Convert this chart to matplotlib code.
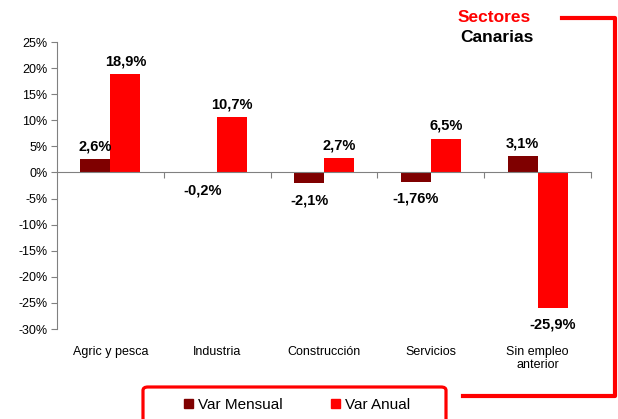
import matplotlib
matplotlib.use("Agg")
import matplotlib.pyplot as plt
from matplotlib.lines import Line2D
from matplotlib.patches import FancyBboxPatch, Patch
import numpy as np

plt.rcParams['font.family'] = ['Liberation Sans', 'DejaVu Sans']

sectores = ['Agric y pesca', 'Industria', 'Construcción', 'Servicios', 'Sin empleo\nanterior']
var_mensual = [2.6, -0.2, -2.1, -1.76, 3.1]
var_anual = [18.9, 10.7, 2.7, 6.5, -25.9]
lab_mensual = ['2,6%', '-0,2%', '-2,1%', '-1,76%', '3,1%']
lab_anual = ['18,9%', '10,7%', '2,7%', '6,5%', '-25,9%']
yticks = [25, 20, 15, 10, 5, 0, -5, -10, -15, -20, -25, -30]

c_mens = '#7f0000'
c_anual = '#ff0000'
grey = '#808080'

W, H = 618, 419
fig = plt.figure(figsize=(W / 100, H / 100), dpi=100)
ax = fig.add_axes([57 / W, 1 - 329 / H, (591 - 57) / W, (329 - 42) / H])

x = np.arange(len(sectores))
w = 0.28
b1 = ax.bar(x - w / 2, var_mensual, w, color=c_mens, zorder=2)
b2 = ax.bar(x + w / 2, var_anual, w, color=c_anual, zorder=2)

for bars, labs in ((b1, lab_mensual), (b2, lab_anual)):
    for bar, lab in zip(bars, labs):
        h = bar.get_height()
        xc = bar.get_x() + bar.get_width() / 2
        if h >= 0:
            ax.annotate(lab, (xc, h), xytext=(0, 4), textcoords='offset points',
                        ha='center', va='bottom', fontsize=10.5, fontweight='bold')
        else:
            ax.annotate(lab, (xc, h), xytext=(0, -7), textcoords='offset points',
                        ha='center', va='top', fontsize=10.5, fontweight='bold')

ax.set_xlim(-0.5, len(sectores) - 0.5)
ax.set_ylim(-30, 25)
ax.set_yticks(yticks)
ax.set_yticklabels([f'{t}%' for t in yticks], fontsize=9)
ax.tick_params(axis='y', direction='out', length=4, color=grey, pad=3)

ax.spines['top'].set_visible(False)
ax.spines['right'].set_visible(False)
ax.spines['left'].set_color(grey)
ax.spines['bottom'].set_position(('data', 0))
ax.spines['bottom'].set_color(grey)
ax.spines['bottom'].set_zorder(3)
ax.set_xticks(x + 0.5)
ax.set_xticklabels([])
ax.tick_params(axis='x', direction='out', length=4, color=grey)

for i, s in enumerate(sectores):
    ax.text(i, -0.058, s, transform=ax.get_xaxis_transform(), ha='center', va='top',
            fontsize=9, linespacing=1.15)

# titulo
fig.text(494 / W, 1 - 17 / H, 'Sectores', color=c_anual, fontsize=12.5, fontweight='bold',
         ha='center', va='center')
fig.text(497 / W, 1 - 37 / H, 'Canarias', color='black', fontsize=12.5, fontweight='bold',
         ha='center', va='center')

# marco rojo
lw = 3
fig.add_artist(Line2D([562 / W, 615 / W, 615 / W, 463 / W],
                      [1 - 18 / H, 1 - 18 / H, 1 - 396 / H, 1 - 396 / H],
                      color=c_anual, lw=lw, transform=fig.transFigure))
fig.add_artist(FancyBboxPatch((143 / W, -0.05), (446 - 143) / W, 0.05 + 1 - 387 / H,
                              boxstyle='round,pad=0,rounding_size=0.008',
                              fill=False, ec=c_anual, lw=2.3, transform=fig.transFigure))

handles = [Patch(color=c_mens, label='Var Mensual'), Patch(color=c_anual, label='Var Anual')]
fig.legend(handles=handles, ncol=2, loc='center', bbox_to_anchor=(297 / W, 1 - 405 / H),
           frameon=False, fontsize=11, handlelength=0.6, handleheight=0.6,
           handletextpad=0.3, columnspacing=3.2)

fig.savefig('out.png', dpi=100)
